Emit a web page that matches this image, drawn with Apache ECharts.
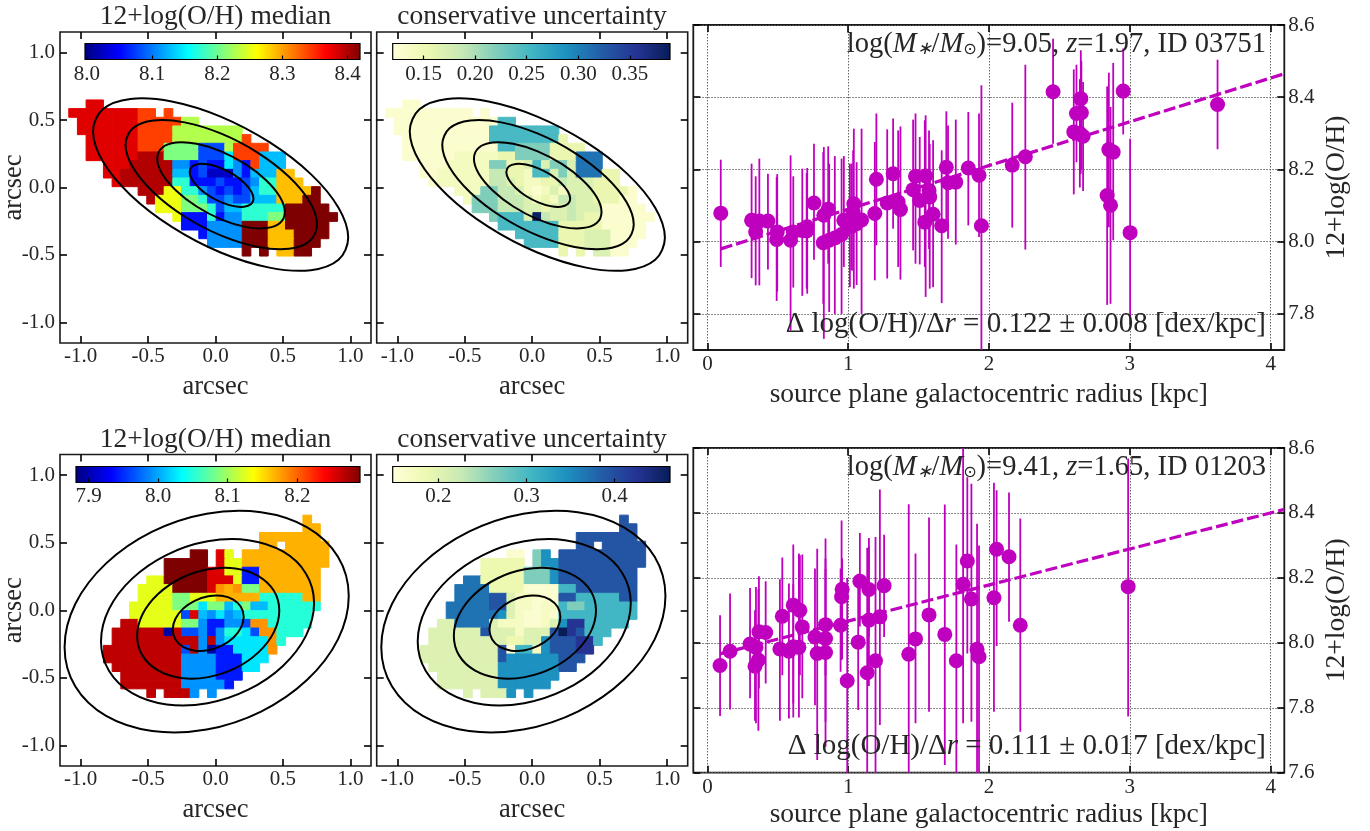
<!DOCTYPE html>
<html><head><meta charset="utf-8">
<style>html,body{margin:0;padding:0;background:#fff}#c{width:1370px;height:831px}</style>
<script src="https://cdn.jsdelivr.net/npm/echarts@6/dist/echarts.min.js"></script>
</head><body><div id="c"></div>
<script>
// ---------- colour scales ----------
const jet = ['#00007f','#0000ff','#007fff','#00ffff','#7fff7f','#ffff00','#ff7f00','#ff0000','#7f0000'];
const ylGnBu = ['#ffffd9','#edf8b1','#c7e9b4','#7fcdbb','#41b6c4','#1d91c0','#225ea8','#253494','#081d58'];

// ---------- map cells: one letter per pixel, '.' = no data ----------
const pixelScale = 0.0643;                    // arcsec per pixel
const topOrigin = [-1.056, 0.617];            // arcsec, centre of first cell of top galaxy
const bottomOrigin = [-0.7985, 0.672];        // arcsec, centre of first cell of bottom galaxy

const topMetalCodes = {n:8.026,u:8.056,b:8.08,a:8.11,s:8.128,c:8.147,t:8.174,g:8.208,l:8.229,k:8.254,y:8.287,o:8.34,r:8.379,d:8.398,m:8.419};
const topMetalRows = [
 "..rr...........................",
 "rrrrrrrroo.o...................",
 ".rrrrrrroooooll................",
 ".rrrrrrroooollllllll...........",
 "..rrrrrroooollllllllo..........",
 "..rrrrrroooggggbbbloooo........",
 "..rrrrrrdddggggbbbcooosss......",
 "....rrrdddddaaubuucauosss......",
 "....rrddddddssubnnnausssyy.....",
 ".....rddddddttuuubuubattyyy....",
 "........dddkkttabububsttyyyym..",
 ".........dkkkggtbbabbsssyyymm..",
 "..........kkkgggtbsstttttmmmmm.",
 "............kuuutuaatttggmmmmmm",
 ".............uuuaaaammmyymmmmm.",
 "...............uaaaammmyyymmmm.",
 "................aaaammmyyymmm..",
 "....................m.m.yymm..."
];
const topUncCodes = {a:0.128,e:0.14,b:0.155,f:0.17,c:0.187,T:0.221,S:0.25,B:0.308,N:0.385};
const topUncRows = [
 "..aa...........................",
 "aaaaaaaaaa.a...................",
 ".aaaaaaaaaaaaSS................",
 ".aaaaaaaaaaaSSSSSSSS...........",
 "..aaaaaaaaaaSSSSSSSSb..........",
 "..aaaaaaaaaaaSSTTTTbbbb........",
 "..aaaaaaeeeeebbTTTTbbbBBB......",
 "....aaaeeeeeTTbbfSfTTfBBB......",
 "....aaeeeeeeccbbeSSfTfBBBbb....",
 ".....aeeeeeeccfbeebbcfffbbb....",
 "........eeeTTccfeaefefffbbbba..",
 ".........eTTTcccfebeccffbbbaa..",
 "..........TTTcccffbffcfffaaaaa.",
 "............TSSSfNcffcfbbaaaaaa",
 ".............SSSSSSSbbbbbaaaaa.",
 "...............SSSSSbbbfffaaaa.",
 "................SSSSbbbfffaaa..",
 "....................b.b.ffaa..."
];
const bottomMetalCodes = {n:7.898,u:7.943,b:7.964,a:7.992,s:8.008,c:8.025,t:8.05,g:8.086,k:8.127,y:8.168,o:8.18,r:8.253,D:8.265,m:8.29};
const bottomMetalRows = [
 ".......................y..",
 ".......................yy.",
 "..................yyyyyyy.",
 "..................yy.yyyyy",
 "..........mm.rk.yyyyyyyyyy",
 ".......mmmmm.rkkyyyyyyyyyy",
 ".......mmmmmrrkkuuyyyyyyy.",
 ".....kkmmmmmrrrkuuyyyyyyy.",
 "....kkkkmmmmroyoggyyyyyyy.",
 "....kkkkggkkkyyyyytttttyy.",
 "...kkkkkgggcggstgsstttttt.",
 "...kkkkkkbrsacastttttttt.",
 "..DDkkkkkggauuaaboottttt..",
 ".DDDDDDnDbbauattcboottt...",
 ".DDDDDDDDDDaDacccccot.....",
 "DDDDDDDDDbDanuucccco......",
 "DDDDDDDDDaaaauuuccc.......",
 ".DDDDDDDDaaaauuucc........",
 "..DDDDDDDaaaauuu..........",
 "..DDDDDDDaaaaau...........",
 ".....D.DDDa.a............."
];
const bottomUncCodes = {a:0.157,e:0.17,b:0.187,c:0.205,T:0.266,S:0.305,U:0.345,B:0.368,V:0.393,W:0.424,N:0.463};
const bottomUncRows = [
 ".......................V..",
 ".......................VV.",
 "..................VVVVVVV.",
 "..................VV.VVVVV",
 "..........aa.TU.VVVVVVVVVV",
 ".......bbbbb.TUUVVVVVVVVVV",
 ".......bbbbbTTTUVVVVVVVVV.",
 ".....BBbbbbbTTTUVVVVVVVVV.",
 "....BBBBbbbbaaaaSSVVVVVVV.",
 "....BBBBVVceeaaaVVSSSSSVV.",
 "...BBBBBVVceeaeeSTTSSSSSS.",
 "...BBBBBBUceaaeaSSSSSSSSS.",
 "..ccBBBBceeeaaecUWWSSSSS..",
 ".ccccccVcccecccVNWVSSS....",
 ".cccccccccbbccUVVVWWS.....",
 "cccccccccVaSSeUVVVWW......",
 "cccccccccVUUUUUUVVV.......",
 ".ccccccccUUUUUUUVV........",
 "..cccccccUUUUUUU..........",
 "..cccccccUUUUUU...........",
 ".....c.cccU.U............."
];

// ---------- contours (arcsec) ----------
const topContours = [
 [[.282,-.083],[.264,-.027],[.212,.035],[.136,.095],[.045,.142],[-.046,.170],[-.122,.175],[-.174,.155],[-.192,.115],[-.174,.059],[-.122,-.003],[-.046,-.063],[.045,-.110],[.136,-.138],[.212,-.143],[.264,-.123]],
 [[.514,-.181],[.478,-.070],[.375,.054],[.222,.173],[.041,.268],[-.140,.324],[-.293,.333],[-.396,.295],[-.432,.213],[-.396,.102],[-.293,-.022],[-.140,-.141],[.041,-.236],[.222,-.292],[.375,-.301],[.478,-.263]],
 [[.753,-.275],[.699,-.108],[.545,.079],[.315,.257],[.043,.399],[-.229,.483],[-.459,.497],[-.613,.439],[-.667,.317],[-.613,.150],[-.459,-.037],[-.229,-.215],[.043,-.357],[.315,-.441],[.545,-.455],[.699,-.397]],
 [[.984,-.373],[.912,-.150],[.707,.099],[.400,.336],[.038,.526],[-.324,.638],[-.631,.657],[-.836,.580],[-.908,.417],[-.836,.194],[-.631,-.055],[-.324,-.292],[.038,-.482],[.400,-.594],[.707,-.613],[.912,-.536]]
];
const bottomContours = [
 [[.209,-.049],[.189,.024],[.132,.079],[.047,.107],[-.054,.104],[-.155,.070],[-.240,.012],[-.297,-.063],[-.317,-.143],[-.297,-.216],[-.240,-.271],[-.155,-.299],[-.054,-.296],[.047,-.262],[.132,-.204],[.189,-.129]],
 [[.473,-.002],[.433,.144],[.318,.253],[.148,.309],[-.054,.303],[-.256,.237],[-.426,.120],[-.541,-.030],[-.581,-.190],[-.541,-.336],[-.426,-.445],[-.256,-.501],[-.054,-.495],[.148,-.429],[.318,-.312],[.433,-.162]],
 [[.731,.053],[.671,.271],[.500,.435],[.243,.519],[-.059,.510],[-.361,.410],[-.618,.234],[-.789,.010],[-.849,-.231],[-.789,-.449],[-.618,-.613],[-.361,-.697],[-.059,-.688],[.243,-.588],[.500,-.412],[.671,-.188]],
 [[.988,.105],[.908,.396],[.680,.614],[.338,.726],[-.066,.715],[-.469,.582],[-.811,.347],[-1.039,.048],[-1.119,-.273],[-1.039,-.564],[-.811,-.782],[-.469,-.894],[-.066,-.883],[.338,-.750],[.680,-.515],[.908,-.216]]
];

// ---------- radial profiles ----------
const topR =  [.095,.314,.343,.369,.43,.496,.492,.591,.61,.674,.709,.705,.757,.827,.858,.823,.865,.905,.953,.969,1.012,1.04,1.035,1.024,1.095,1.06,1.189,1.2,1.277,1.319,1.355,1.371,1.461,1.478,1.508,1.55,1.544,1.574,1.579,1.603,1.664,1.697,1.709,1.764,1.853,1.929,1.946,2.165,2.258,2.455,2.602,2.621,2.652,2.656,2.645,2.668,2.839,2.851,2.882,2.863,2.953,3.002,3.623];
const topOH = [8.079,8.059,8.027,8.057,8.057,8.027,8.006,8.004,8.027,8.031,8.041,8.03,8.107,8.073,8.09,7.997,8.004,8.01,8.02,8.059,8.05,8.105,8.082,8.042,8.06,8.05,8.078,8.173,8.107,8.188,8.11,8.089,8.144,8.181,8.114,8.182,8.054,8.142,8.124,8.076,8.044,8.206,8.163,8.165,8.204,8.184,8.044,8.212,8.235,8.415,8.304,8.355,8.396,8.357,8.3,8.292,8.128,8.255,8.248,8.101,8.417,8.025,8.38];
const topLow =[7.93,7.899,7.879,7.879,7.923,7.862,7.836,7.754,7.873,7.85,7.856,7.87,7.95,7.731,7.939,7.828,7.805,7.8,7.8,7.93,7.874,7.87,7.92,7.92,7.8,7.88,7.893,7.99,7.898,8.036,7.93,7.895,7.976,7.939,7.937,7.847,7.93,7.98,7.87,7.874,7.83,8.05,8.008,7.992,8.045,8.013,7.68,8.039,7.978,8.271,8.131,8.22,8.188,8.2,8.15,8.14,7.825,8.04,8.004,7.828,8.297,7.77,8.256];
const topHigh=[8.227,8.216,8.181,8.23,8.188,8.187,8.179,8.239,8.181,8.202,8.204,8.19,8.271,8.262,8.264,8.248,8.216,8.237,8.23,8.237,8.216,8.313,8.253,8.216,8.313,8.22,8.276,8.355,8.311,8.341,8.308,8.319,8.338,8.355,8.29,8.35,8.336,8.308,8.271,8.281,8.253,8.361,8.322,8.338,8.359,8.355,8.433,8.385,8.49,8.562,8.477,8.49,8.53,8.5,8.45,8.442,8.43,8.468,8.495,8.373,8.535,8.285,8.504];
const topFitR = [.095,4.097];
const topFitOH = [7.98,8.465];

const botR =  [.09,.161,.303,.345,.338,.362,.366,.414,.515,.532,.579,.61,.61,.65,.657,.674,.764,.78,.839,.839,.839,.946,.953,.957,.993,1.071,1.083,1.135,1.147,1.147,1.194,1.225,1.255,1.43,1.478,1.574,1.686,1.768,1.816,1.846,1.875,1.915,1.929,2.035,2.054,2.142,2.222,2.988];
const botOH = [7.93,7.974,7.996,7.986,7.928,7.947,8.034,8.032,7.981,8.082,7.974,8.116,7.988,7.986,8.1,8.049,8.018,7.967,8.013,7.97,8.056,8.054,8.142,8.165,7.883,8.002,8.19,7.908,8.07,8.164,7.945,8.08,8.176,7.965,8.012,8.086,8.026,7.945,8.18,8.252,8.135,7.98,7.957,8.139,8.288,8.265,8.054,8.173];
const botLow =[7.775,7.795,7.829,7.752,7.76,7.729,7.859,7.875,7.76,7.9,7.767,7.813,7.77,7.77,7.9,7.829,7.808,7.639,7.757,7.68,7.9,7.911,7.947,7.95,7.58,7.793,8.05,7.58,7.867,8.018,7.58,7.747,8.018,7.58,7.752,7.788,7.624,7.58,7.752,7.967,7.757,7.58,7.58,7.788,7.99,8.065,7.726,7.773];
const botHigh=[8.085,8.152,8.169,8.172,8.1,8.165,8.205,8.19,8.196,8.263,8.183,8.303,8.18,8.275,8.27,8.272,8.229,8.29,8.321,8.26,8.227,8.229,8.377,8.26,8.2,8.213,8.338,8.293,8.323,8.297,8.326,8.472,8.333,8.427,8.275,8.386,8.426,8.303,8.62,8.51,8.49,8.367,8.3,8.493,8.47,8.463,8.383,8.568];
const botFitR = [.09,4.097];
const botFitOH = [7.966,8.411];

// ---------- ticks and text ----------
const mapTicks = [-1,-0.5,0,0.5,1];
const rTicks = [0,1,2,3,4];
const topOHTicks = [7.8,8.0,8.2,8.4,8.6];
const botOHTicks = [7.6,7.8,8.0,8.2,8.4,8.6];
const cbarTopMetalTicks = [8.0,8.1,8.2,8.3,8.4];
const cbarTopUncTicks = [0.15,0.20,0.25,0.30,0.35];
const cbarBotMetalTicks = [7.9,8.0,8.1,8.2];
const cbarBotUncTicks = [0.2,0.3,0.4];

const SERIF = '"Liberation Serif","Times New Roman",serif';
const INK = '#262626';
const PURPLE = '#bf00bf';

const grids = [], xAxes = [], yAxes = [], series = [], visualMaps = [], titles = [];

function addAxes(g, xOpt, yOpt, rightLabels) {
  const i = grids.length - 1;
  const tick = {show:true, inside:true, length:7, lineStyle:{color:'#000', width:1.6}};
  const noLine = {show:false, onZero:false};
  const baseX = {type:'value', gridIndex:i, min:xOpt.min, max:xOpt.max, splitLine:{show:false}, axisLine:noLine, z:1};
  const baseY = {type:'value', gridIndex:i, min:yOpt.min, max:yOpt.max, splitLine:{show:false}, axisLine:noLine, z:1};
  const grid = g.grid;
  const dot = {show:true, lineStyle:{type:[1.5,1.5], color:'#666', width:1}};
  xAxes.push(Object.assign({}, baseX, {position:'bottom',
    axisTick:Object.assign({customValues:xOpt.ticks}, tick),
    splitLine: grid ? dot : {show:false},
    axisLabel:{show:true, customValues:xOpt.ticks, fontFamily:SERIF, fontSize:xOpt.fs, color:INK, margin:xOpt.margin, formatter:xOpt.fmt},
    name:xOpt.name, nameLocation:'middle', nameGap:xOpt.gap, nameTextStyle:{fontFamily:SERIF, fontSize:xOpt.nfs, color:INK}}));
  const xi = xAxes.length - 1;
  xAxes.push(Object.assign({}, baseX, {position:'top', axisTick:Object.assign({customValues:xOpt.ticks}, tick), axisLabel:{show:false}}));
  yAxes.push(Object.assign({}, baseY, {position:'left',
    axisTick:Object.assign({customValues:yOpt.ticks}, tick),
    splitLine: grid ? dot : {show:false},
    axisLabel: rightLabels ? {show:false} : (yOpt.noLabel ? {show:false} : {show:true, customValues:yOpt.ticks, fontFamily:SERIF, fontSize:21, color:INK, margin:5, padding:[6,0,0,0], formatter:yOpt.fmt}),
    name: rightLabels ? '' : yOpt.name, nameLocation:'middle', nameGap:yOpt.gap, nameMoveOverlap:false, nameTextStyle:{fontFamily:SERIF, fontSize:yOpt.nfs, color:INK}}));
  const yi = yAxes.length - 1;
  yAxes.push(Object.assign({}, baseY, {position:'right', axisTick:Object.assign({customValues:yOpt.ticks}, tick),
    axisLabel: rightLabels ? {show:true, customValues:yOpt.ticks, fontFamily:SERIF, fontSize:21, color:INK, margin:4, padding:[6,0,0,0], formatter:yOpt.fmt} : {show:false},
    name: rightLabels ? yOpt.name : '', nameLocation:'middle', nameGap:yOpt.gap, nameRotate:90, nameTextStyle:{fontFamily:SERIF, fontSize:yOpt.nfs, color:INK}}));
  return [xi, yi];
}

function cellsFrom(rows, codes, origin) {
  const out = [];
  rows.forEach((row, r) => { for (let k = 0; k < row.length; k++) {
    const v = codes[row[k]];
    if (v !== undefined) out.push([origin[0] + k * pixelScale, origin[1] - r * pixelScale, v]);
  }});
  return out;
}

function mapPanel(left, top, h, rows, codes, origin, contours, colors, vmin, vmax, opts) {
  grids.push({left, top, width:311, height:h, show:true, borderColor:'#1a1a1a', borderWidth:1.6, backgroundColor:'#fff', outerBoundsMode:'none', containLabel:false});
  const [xi, yi] = addAxes({},
    {min:-1.153, max:1.153, ticks:mapTicks, fs:21, margin:3, fmt:v=>v.toFixed(1), name:'arcsec', gap:31, nfs:26.5},
    {min:-1.153, max:1.153, ticks:mapTicks, fmt:v=>v.toFixed(1), noLabel:opts.noY, name:opts.noY?'':'arcsec', gap:32, nfs:26.5}, false);
  const half = pixelScale / 2;
  series.push({type:'custom', xAxisIndex:xi, yAxisIndex:yi, clip:true, z:3, silent:true,
    data:cellsFrom(rows, codes, origin), encode:{x:0, y:1},
    renderItem:(p, api) => {
      const a = api.coord([api.value(0) - half, api.value(1) + half]);
      const s = api.size([pixelScale, pixelScale]);
      const c = api.visual('color');
      return {type:'rect', shape:{x:a[0], y:a[1], width:s[0], height:s[1]}, style:{fill:c, stroke:c, lineWidth:1}};
    }});
  visualMaps.push({show:false, type:'continuous', seriesIndex:series.length - 1, dimension:2, min:vmin, max:vmax, inRange:{color:colors}});
  contours.forEach(c => series.push({type:'custom', xAxisIndex:xi, yAxisIndex:yi, data:c, encode:{x:0, y:1}, clip:true, z:4, silent:true,
    renderItem:(p, api) => p.dataIndex === 0
      ? {type:'polygon', shape:{points:c.map(q => api.coord(q)), smooth:0.34}, style:{fill:'none', stroke:'#000', lineWidth:2}}
      : null}));
}

function colorBar(left, top, width, colors, vmin, vmax, ticks, digits, margin) {
  const stops = colors.map((c, i) => ({offset:i / (colors.length - 1), color:c}));
  grids.push({left, top, width, height:16, show:true, borderColor:'#000', borderWidth:1.2, z:6, outerBoundsMode:'none', containLabel:false,
    backgroundColor:new echarts.graphic.LinearGradient(0, 0, 1, 0, stops)});
  const i = grids.length - 1;
  xAxes.push({type:'value', gridIndex:i, min:vmin, max:vmax, position:'bottom', z:7, axisLine:{show:false, onZero:false}, splitLine:{show:false},
    axisTick:{show:true, inside:true, length:4, customValues:ticks, lineStyle:{color:'#000', width:1.2}},
    axisLabel:{show:true, customValues:ticks, fontFamily:SERIF, fontSize:21, color:INK, margin:margin, formatter:v=>v.toFixed(digits)}});
  yAxes.push({type:'value', gridIndex:i, min:0, max:1, show:false});
}

function profilePanel(top, h, ymin, ymax, yticks, rs, oh, lo, hi, fitR, fitOH, nameGap) {
  grids.push({left:693.3, top, width:591, height:h, show:true, borderColor:'#1a1a1a', borderWidth:1.8, backgroundColor:'#fff', outerBoundsMode:'none', containLabel:false});
  const [xi, yi] = addAxes({grid:true},
    {min:-0.1, max:4.097, ticks:rTicks, fs:21, margin:4, fmt:v=>String(v), name:'source plane galactocentric radius [kpc]', gap:nameGap, nfs:27.5},
    {min:ymin, max:ymax, ticks:yticks, fmt:v=>v.toFixed(1), name:'12+log(O/H)', gap:38, nfs:27.5}, true);
  series.push({type:'custom', xAxisIndex:xi, yAxisIndex:yi, clip:true, z:3, silent:true,
    data:rs.map((r, i) => [r, lo[i], hi[i]]), encode:{x:0, y:[1, 2]},
    renderItem:(p, api) => {
      const a = api.coord([api.value(0), api.value(1)]);
      const b = api.coord([api.value(0), api.value(2)]);
      return {type:'line', shape:{x1:a[0], y1:a[1], x2:b[0], y2:b[1]}, style:{stroke:PURPLE, lineWidth:1.8}};
    }});
  series.push({type:'scatter', xAxisIndex:xi, yAxisIndex:yi, z:5, symbol:'circle', symbolSize:15, silent:true, animation:false,
    itemStyle:{color:PURPLE, opacity:1}, data:rs.map((r, i) => [r, oh[i]])});
  series.push({type:'line', xAxisIndex:xi, yAxisIndex:yi, z:4, symbol:'none', showSymbol:false, silent:true, animation:false,
    lineStyle:{color:PURPLE, width:3.2, type:[12,4]}, data:fitR.map((r, i) => [r, fitOH[i]])});
}

// panels
mapPanel(60, 32, 311, topMetalRows, topMetalCodes, topOrigin, topContours, jet, 7.997, 8.419, {noY:false});
mapPanel(376.7, 32, 311, topUncRows, topUncCodes, topOrigin, topContours, ylGnBu, 0.12, 0.389, {noY:true});
profilePanel(25, 325, 7.7, 8.6, topOHTicks, topR, topOH, topLow, topHigh, topFitR, topFitOH, 31);
mapPanel(60, 454.5, 311.5, bottomMetalRows, bottomMetalCodes, bottomOrigin, bottomContours, jet, 7.882, 8.29, {noY:false});
mapPanel(376.7, 454.5, 311.5, bottomUncRows, bottomUncCodes, bottomOrigin, bottomContours, ylGnBu, 0.148, 0.463, {noY:true});
profilePanel(448, 324.7, 7.6, 8.6, botOHTicks, botR, botOH, botLow, botHigh, botFitR, botFitOH, 28);

colorBar(85, 43.5, 275, jet, 7.997, 8.419, cbarTopMetalTicks, 1, 4);
colorBar(392.7, 43.5, 277.3, ylGnBu, 0.12, 0.389, cbarTopUncTicks, 2, 4);
colorBar(76, 466.5, 284, jet, 7.882, 8.29, cbarBotMetalTicks, 1, 3);
colorBar(392.7, 466.5, 277.3, ylGnBu, 0.148, 0.463, cbarBotUncTicks, 1, 3);

// titles
function richFor(size) {
  return {
    i:{fontFamily:SERIF, fontStyle:'italic', fontSize:size, color:INK},
    s:{fontFamily:SERIF, fontStyle:'italic', fontSize:18, color:INK, padding:[10,0,0,0]},
    o:{fontFamily:'"DejaVu Sans",sans-serif', fontSize:16, color:INK, padding:[10,0,0,0]}
  };
}
function heading(text, cx, top) {
  titles.push({text, left:cx, top, textAlign:'center', padding:0, textStyle:{fontFamily:SERIF, fontSize:27.5, fontWeight:'normal', color:INK}});
}
function note(text, top, size) {
  titles.push({text, right:104, top, padding:0, textStyle:{fontFamily:SERIF, fontSize:size, fontWeight:'normal', color:INK, rich:richFor(size)}});
}
heading('12+log(O/H) median', 215.5, 3);
heading('conservative uncertainty', 532, 3);
heading('12+log(O/H) median', 215.5, 426);
heading('conservative uncertainty', 532, 426);
note('log({i|M}{s|∗}/{i|M}{o|⊙})=9.05, {i|z}=1.97, ID 03751', 30, 28.5);
note('Δ log(O/H)/Δ{i|r} = 0.122 ± 0.008 [dex/kpc]', 310, 29);
note('log({i|M}{s|∗}/{i|M}{o|⊙})=9.41, {i|z}=1.65, ID 01203', 453, 28.5);
note('Δ log(O/H)/Δ{i|r} = 0.111 ± 0.017 [dex/kpc]', 732, 29);

const chart = echarts.init(document.getElementById('c'), null, {renderer:'canvas'});
chart.setOption({animation:false, backgroundColor:'#fff', title:titles, grid:grids, xAxis:xAxes, yAxis:yAxes, visualMap:visualMaps, series});
</script></body></html>
